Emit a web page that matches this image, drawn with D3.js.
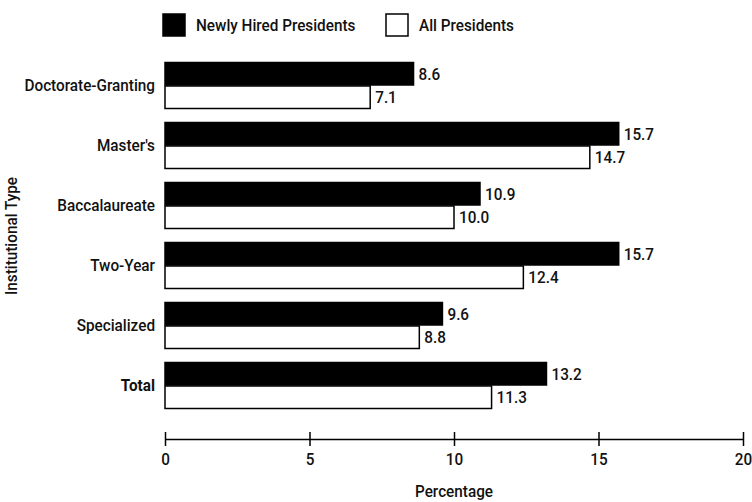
<!DOCTYPE html>
<html><head><meta charset="utf-8">
<script src="https://cdn.jsdelivr.net/npm/d3@7"></script>
<style>
body{margin:0;background:#fff;}
text{font-family:Roboto,"Liberation Sans",sans-serif;fill:#111;}
</style></head>
<body><svg id="c" width="752" height="502"></svg>
<script>
const categories = ["Doctorate-Granting","Master's","Baccalaureate","Two-Year","Specialized","Total"];
const newlyHired = [8.6,15.7,10.9,15.7,9.6,13.2];
const allPresidents = [7.1,14.7,10.0,12.4,8.8,11.3];
const seriesNames = ["Newly Hired Presidents","All Presidents"];
const tickValues = [0,5,10,15,20];

const SX = 0.9, FS = 17;
const svg = d3.select("#c");
const x = d3.scaleLinear().domain([0,20]).range([165,743]);
const y = d3.scaleBand().domain(categories).range([62,409]).paddingInner(13/60).paddingOuter(0);
const sub = d3.scaleBand().domain(seriesNames).range([0,y.bandwidth()]);

function label(parent, tx, ty, txt, anchor, rot){
  return parent.append("text")
    .attr("transform",`translate(${tx},${ty})${rot?" rotate(-90)":""} scale(${SX},1)`)
    .attr("text-anchor",anchor||"start").attr("font-size",FS)
    .style("font-weight","500").text(txt);
}

const g = svg.append("g");
categories.forEach((c,i)=>{
  const vals=[newlyHired[i],allPresidents[i]];
  vals.forEach((v,j)=>{
    g.append("rect").attr("x",x(0)).attr("y",y(c)+sub(seriesNames[j])+0.5)
     .attr("width",x(v)-x(0)).attr("height",sub.bandwidth()-1)
     .attr("fill",j===0?"#000":"#fff").attr("stroke","#000").attr("stroke-width",1.5);
    label(g, x(v)+5, y(c)+sub(seriesNames[j])+sub.bandwidth()/2+6, v.toFixed(1));
  });
  const t = label(g, 155, y(c)+y.bandwidth()/2+5, c, "end");
  if(c==="Total") t.style("font-weight","700");
});

const ax = svg.append("g").attr("transform","translate(0,439)")
  .call(d3.axisBottom(x).tickValues(tickValues).tickSize(0).tickPadding(14).tickFormat(d3.format("d")));
ax.select(".domain").attr("stroke","#000").attr("stroke-width",1.5);
ax.selectAll(".tick").append("line").attr("y1",-7).attr("y2",7).attr("stroke","#000").attr("stroke-width",1.5);
ax.selectAll(".tick text").attr("font-size",FS).attr("font-family",null).attr("fill","#111")
  .style("font-weight","500").attr("transform",`scale(${SX},1)`);

label(svg, 454, 497, "Percentage", "middle");
label(svg, 17, 236, "Institutional Type", "middle", true);

// legend
const leg = svg.append("g");
seriesNames.forEach((s,j)=>{
  const lx = j===0?163:386;
  leg.append("rect").attr("x",lx).attr("y",14).attr("width",22).attr("height",22)
    .attr("fill",j===0?"#000":"#fff").attr("stroke","#000").attr("stroke-width",1.5);
  label(leg, lx+33, 31, s);
});
</script></body></html>
